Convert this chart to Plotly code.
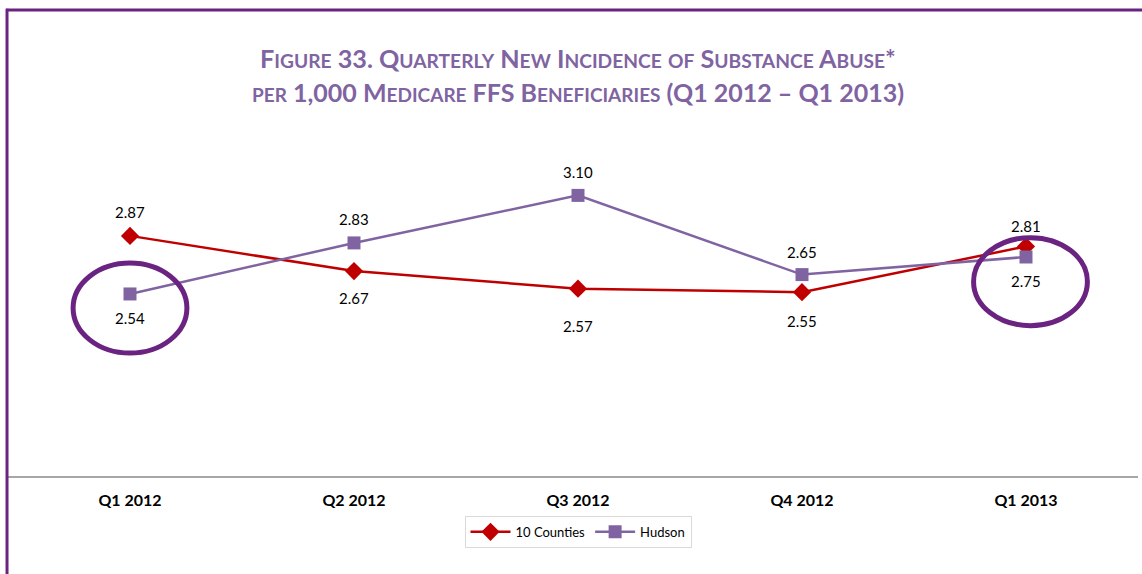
import plotly.graph_objects as go

quarters = ["Q1 2012", "Q2 2012", "Q3 2012", "Q4 2012", "Q1 2013"]
counties = [2.87, 2.67, 2.57, 2.55, 2.81]
hudson = [2.54, 2.83, 3.10, 2.65, 2.75]
counties_labels = ["2.87", "2.67", "2.57", "2.55", "2.81"]
hudson_labels = ["2.54", "2.83", "3.10", "2.65", "2.75"]
# label offsets in pixels (positive = above)
counties_shift = [24, -27, -37, -29, 20]
hudson_shift = [-24, 24, 23, 23, -24]

RED = "#C00000"
PURPLE = "#8064A2"
DARK = "#6B2381"
TITLE_C = "#8064A2"
FONT = "Lato"


def small_caps(s, small=19):
    out = []
    for ch in s:
        if ch.islower():
            out.append(f"<span style='font-size:{small}px'>{ch.upper()}</span>")
        else:
            out.append(ch)
    return "".join(out)


title1 = "Figure 33. Quarterly New Incidence of Substance Abuse*"
title2 = "per 1,000 Medicare FFS Beneficiaries (Q1 2012 – Q1 2013)"

fig = go.Figure()
fig.add_trace(go.Scatter(
    x=quarters, y=counties, name="10 Counties", mode="lines+markers",
    line=dict(color=RED, width=2.5),
    marker=dict(symbol="diamond", size=14, color=RED),
))
fig.add_trace(go.Scatter(
    x=quarters, y=hudson, name="Hudson", mode="lines+markers",
    line=dict(color=PURPLE, width=2.5),
    marker=dict(symbol="square", size=13, color=PURPLE),
))

annotations = []
for q, v, t, s in zip(quarters, counties, counties_labels, counties_shift):
    annotations.append(dict(x=q, y=v, text=t, showarrow=False, yshift=s,
                            font=dict(family=FONT, size=15, color="#000000")))
for q, v, t, s in zip(quarters, hudson, hudson_labels, hudson_shift):
    annotations.append(dict(x=q, y=v, text=t, showarrow=False, yshift=s,
                            font=dict(family=FONT, size=15, color="#000000")))

annotations.append(dict(xref="paper", yref="paper", x=0.5, y=1.190, text=small_caps(title1, 19.2),
                        showarrow=False,
                        font=dict(family=FONT, size=25.2, color=TITLE_C, weight="bold"),
                        xanchor="center", yanchor="middle"))
annotations.append(dict(xref="paper", yref="paper", x=0.5, y=1.094, text=small_caps(title2, 19),
                        showarrow=False,
                        font=dict(family=FONT, size=25, color=TITLE_C, weight="bold"),
                        xanchor="center", yanchor="middle"))

shapes = [
    # highlight ellipses around Hudson first and last points
    dict(type="circle", xref="x", yref="y", x0=-0.254, x1=0.254,
         y0=hudson[0] - 0.08 - 0.256, y1=hudson[0] - 0.08 + 0.256,
         line=dict(color=DARK, width=5)),
    dict(type="circle", xref="x", yref="y", x0=4.02 - 0.254, x1=4.02 + 0.254,
         y0=hudson[4] - 0.14 - 0.25, y1=hudson[4] - 0.14 + 0.25,
         line=dict(color=DARK, width=5)),
    # axis baseline
    dict(type="line", xref="paper", yref="paper", x0=-0.009, x1=1.0, y0=0, y1=0,
         line=dict(color="#A6A6A6", width=2), layer="below"),
    # outer frame (top and left)
    dict(type="line", xref="paper", yref="paper", x0=-0.0107, x1=1.01, y0=1.3267, y1=1.3267,
         line=dict(color=DARK, width=3)),
    dict(type="line", xref="paper", yref="paper", x0=-0.0098, x1=-0.0098, y0=1.33, y1=-0.3,
         line=dict(color=DARK, width=3)),
]

fig.update_layout(
    width=1142, height=574,
    margin=dict(l=18, r=4, t=125, b=97),
    paper_bgcolor="white", plot_bgcolor="white",
    showlegend=True,
    legend=dict(orientation="h", x=0.5, xanchor="center", y=-0.156, yanchor="middle",
                bordercolor="#D9D9D9", borderwidth=1,
                font=dict(family=FONT, size=13, color="#000000"),
                itemwidth=40, tracegroupgap=0),
    xaxis=dict(type="category", range=[-0.5, 4.5], showgrid=False, zeroline=False,
               showline=False, ticks="", ticklabelstandoff=12,
               tickfont=dict(family=FONT, size=16, color="#000000", weight="bold")),
    yaxis=dict(range=[1.5, 3.5], visible=False),
    annotations=annotations,
    shapes=shapes,
)

fig.write_html("out.html", config={"displayModeBar": False},
               post_script="document.body.style.margin='0';")
